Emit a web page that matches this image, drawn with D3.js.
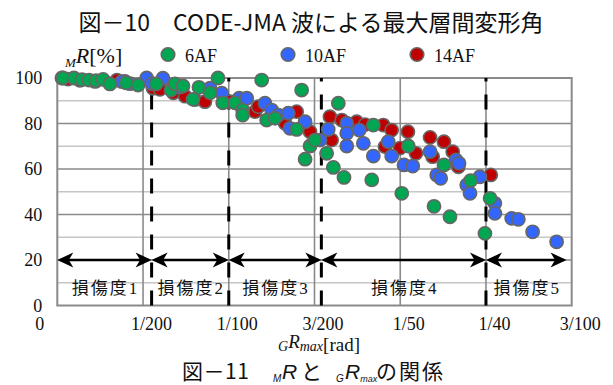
<!DOCTYPE html>
<html>
<head>
<meta charset="utf-8">
<script src="https://cdn.jsdelivr.net/npm/d3@7"></script>
<style>
  body { margin: 0; background: #fff; }
  svg { display: block; }
</style>
</head>
<body>
<svg id="chart" width="613" height="385"></svg>
<script>
// ---- data: maximum inter-story drift (rad) vs. residual ratio MR (%) ----
const seriesNames = ["6AF", "10AF", "14AF"];
const seriesColors = ["#00a651", "#3366ff", "#c00000"];

const drift6AF = [0.00033, 0.00097, 0.00144, 0.00185, 0.00226, 0.00267, 0.00307, 0.00401, 0.00471,
  0.00576, 0.00663, 0.00686, 0.00733, 0.00791, 0.00826, 0.00891, 0.00937, 0.00965, 0.01036, 0.01081,
  0.01081, 0.01192, 0.01221, 0.0127, 0.01396, 0.01425, 0.01445, 0.01474, 0.01503, 0.01571, 0.0161,
  0.01639, 0.01672, 0.01834, 0.01843, 0.02009, 0.02047, 0.02197, 0.02255, 0.0229, 0.02411, 0.02494, 0.02524];
const ratio6AF = [100, 100, 99.3, 99.1, 98.8, 99.4, 97.4, 97.9, 96.9,
  97.4, 94.7, 97.4, 96.5, 90.6, 95.9, 93.5, 100, 89.1, 89.1, 85.9,
  83.7, 99.1, 81.5, 82.3, 77.4, 94.7, 64.3, 70.1, 72.7, 66.9, 60.7,
  88.9, 56.3, 55.2, 79.3, 49.3, 70.1, 43.6, 61.8, 39.0, 54.9, 31.7, 47.1];

const drift10AF = [0.00376, 0.00424, 0.00521, 0.00552, 0.00616, 0.00716, 0.00891, 0.00959, 0.01061,
  0.01105, 0.01211, 0.0125, 0.01289, 0.01347, 0.01357, 0.01445, 0.01532, 0.0158, 0.01688, 0.01688,
  0.01688, 0.01761, 0.01785, 0.01843, 0.0193, 0.0195, 0.02022, 0.02073, 0.02174, 0.02213, 0.02236,
  0.02325, 0.02343, 0.02388, 0.02407, 0.02465, 0.02552, 0.02552, 0.0265, 0.02689, 0.02772, 0.02912];
const ratio10AF = [98.4, 97.5, 100, 97.5, 99.9, 96.0, 95.5, 93.3, 91.1,
  91.1, 88.9, 85.9, 83.7, 84.5, 77.9, 80.8, 72.7, 77.4, 80.1, 75.7,
  70.1, 77.1, 71.3, 65.7, 72.0, 65.7, 61.8, 61.3, 67.6, 57.4, 55.9,
  64.0, 62.5, 53.0, 49.3, 56.6, 44.9, 40.5, 38.3, 37.9, 32.4, 28.0];

const drift14AF = [0.00027, 0.00062, 0.00132, 0.0022, 0.00348, 0.00395, 0.00558, 0.00599, 0.00677,
  0.00745, 0.00803, 0.00861, 0.01007, 0.01153, 0.01172, 0.01328, 0.01396, 0.01474, 0.0159, 0.016,
  0.01659, 0.01746, 0.01795, 0.01901, 0.01911, 0.0195, 0.01999, 0.02045, 0.02092, 0.02174,
  0.02189, 0.02255, 0.02306, 0.02339, 0.02528];
const ratio14AF = [100, 99.5, 99.0, 98.5, 99.1, 98.5, 95.5, 95.0, 93.5,
  92.0, 90.5, 89.6, 89.6, 85.2, 87.4, 80.1, 85.2, 76.4, 83.0, 72.7,
  81.5, 80.8, 79.5, 79.3, 69.8, 77.1, 69.2, 76.4, 66.9, 73.9,
  65.4, 72.0, 67.6, 61.0, 57.4];

const xTickValues = [0, 0.005, 0.01, 0.015, 0.02, 0.025, 0.03];
const xTickLabels = ["0", "1/200", "1/100", "3/200", "1/50", "1/40", "3/100"];
const yTickValues = [0, 20, 40, 60, 80, 100];
const yMinorValues = [10, 30, 50, 70, 90];

// damage-level boundaries (rad) and their labels
const boundaryDrifts = [0.0055, 0.01, 0.0154, 0.025];
const rangeEnd = 0.0297;
const damageLabels = ["損傷度1", "損傷度2", "損傷度3", "損傷度4", "損傷度5"];

// ---- drawing ----
const svg = d3.select("#chart");
const serif = "'Liberation Serif', 'Times New Roman', serif";
const jp = "'Noto Sans CJK JP', 'Noto Sans', sans-serif";
const sansIt = "'Liberation Sans', Arial, sans-serif";

const x = d3.scaleLinear().domain([0, 0.03]).range([57.3, 571.7]);
const y = d3.scaleLinear().domain([0, 100]).range([305.5, 78]);

// title
svg.append("text")
  .attr("x", 311).attr("y", 30.5)
  .attr("text-anchor", "middle")
  .style("font-family", jp).style("font-size", "23px").attr("fill", "#111")
  .text("図－10　CODE-JMA 波による最大層間変形角");

// gridlines
const grid = svg.append("g");
grid.selectAll("line.minor").data(yMinorValues).join("line")
  .attr("x1", x(0)).attr("x2", x(0.03))
  .attr("y1", d => y(d)).attr("y2", d => y(d))
  .attr("stroke", "#c6c6c6").attr("stroke-width", 1.6);
grid.selectAll("line.hmajor").data(yTickValues.slice(1, -1)).join("line")
  .attr("x1", x(0)).attr("x2", x(0.03))
  .attr("y1", d => y(d)).attr("y2", d => y(d))
  .attr("stroke", "#8a8a8a").attr("stroke-width", 1.6);
grid.selectAll("line.vmajor").data(xTickValues.slice(1, -1)).join("line")
  .attr("x1", d => x(d)).attr("x2", d => x(d))
  .attr("y1", y(0)).attr("y2", y(100))
  .attr("stroke", "#8a8a8a").attr("stroke-width", 1.6);
svg.append("rect")
  .attr("x", x(0)).attr("y", y(100))
  .attr("width", x(0.03) - x(0)).attr("height", y(0) - y(100))
  .attr("fill", "none").attr("stroke", "#8a8a8a").attr("stroke-width", 2);

// axes (labels only)
const yAxis = svg.append("g")
  .attr("transform", `translate(${x(0)},0)`)
  .call(d3.axisLeft(y).tickValues(yTickValues).tickSize(0).tickPadding(15));
yAxis.select(".domain").remove();
yAxis.selectAll("text")
  .style("font-family", serif).style("font-size", "18px").attr("fill", "#111");

const xAxis = svg.append("g")
  .attr("transform", `translate(0,${y(0)})`)
  .call(d3.axisBottom(x).tickValues(xTickValues).tickSize(0)
    .tickFormat((d, i) => xTickLabels[i]));
xAxis.select(".domain").remove();
xAxis.selectAll("text")
  .attr("y", 24).attr("dy", null)
  .attr("x", d => d === 0 ? -18 : 8)
  .style("font-family", serif).style("font-size", "18px").attr("fill", "#111");

// damage-level boundaries
svg.append("g").selectAll("line").data(boundaryDrifts).join("line")
  .attr("x1", d => x(d)).attr("x2", d => x(d))
  .attr("y1", y(0)).attr("y2", y(100))
  .attr("stroke", "#000").attr("stroke-width", 3)
  .attr("stroke-dasharray", "15 13");

// double-headed arrows at MR = 20
const defs = svg.append("defs");
defs.append("marker")
  .attr("id", "head").attr("markerUnits", "userSpaceOnUse")
  .attr("viewBox", "-16 -10 20 20").attr("refX", 0).attr("refY", 0)
  .attr("markerWidth", 20).attr("markerHeight", 20)
  .attr("orient", "auto-start-reverse")
  .append("path").attr("d", "M3,0 L-13,-7.5 L-8.5,0 L-13,7.5 Z").attr("fill", "#000");

const edges = [0, ...boundaryDrifts, rangeEnd];
const spans = d3.pairs(edges);
svg.append("g").selectAll("line").data(spans).join("line")
  .attr("x1", d => x(d[0]) + 3).attr("x2", d => x(d[1]) - 3)
  .attr("y1", y(20)).attr("y2", y(20))
  .attr("stroke", "#000").attr("stroke-width", 2.4)
  .attr("marker-start", "url(#head)").attr("marker-end", "url(#head)");

// damage-level labels
const lab = svg.append("g").selectAll("text").data(spans).join("text")
  .attr("x", d => (x(d[0]) + x(d[1])) / 2)
  .attr("y", 294)
  .attr("text-anchor", "middle")
  .attr("fill", "#111");
lab.append("tspan")
  .style("font-family", jp).style("font-size", "17px").style("letter-spacing", "2px")
  .text((d, i) => damageLabels[i].slice(0, 3));
lab.append("tspan")
  .style("font-family", serif).style("font-size", "17px")
  .text((d, i) => damageLabels[i].slice(3));

// scatter points: 14AF below, 6AF on top
const series = [
  { name: seriesNames[2], color: seriesColors[2], xs: drift14AF, ys: ratio14AF },
  { name: seriesNames[1], color: seriesColors[1], xs: drift10AF, ys: ratio10AF },
  { name: seriesNames[0], color: seriesColors[0], xs: drift6AF, ys: ratio6AF }
];
series.forEach(s => {
  svg.append("g").selectAll("circle").data(d3.zip(s.xs, s.ys)).join("circle")
    .attr("cx", d => x(d[0])).attr("cy", d => y(d[1]))
    .attr("r", 6.6)
    .attr("fill", s.color).attr("stroke", "#666").attr("stroke-width", 1.6);
});

// legend
const yLab = svg.append("text").attr("y", 63).attr("fill", "#111").style("font-family", serif);
yLab.append("tspan").attr("x", 65).attr("y", 67).style("font-size", "13px").style("font-style", "italic").text("M");
yLab.append("tspan").attr("y", 63).style("font-size", "22px").style("font-style", "italic").text("R");
yLab.append("tspan").style("font-size", "22px").text("[%]");

const legendX = [168, 288, 417];
seriesNames.forEach((n, i) => {
  svg.append("circle").attr("cx", legendX[i]).attr("cy", 54.5).attr("r", 6.8)
    .attr("fill", seriesColors[i]).attr("stroke", "#666").attr("stroke-width", 1.6);
  svg.append("text").attr("x", legendX[i] + 17).attr("y", 62)
    .style("font-family", serif).style("font-size", "18px").attr("fill", "#111")
    .text(n);
});

// x-axis title
const xLab = svg.append("text").attr("fill", "#111").style("font-family", serif);
xLab.append("tspan").attr("x", 278).attr("y", 351.3).style("font-size", "14px").style("font-style", "italic").text("G");
xLab.append("tspan").attr("y", 347.5).style("font-size", "19px").style("font-style", "italic").text("R");
xLab.append("tspan").attr("y", 351.3).style("font-size", "14px").style("font-style", "italic").text("max");
xLab.append("tspan").attr("y", 350.5).style("font-size", "19px").text("[rad]");

// caption
const cap = svg.append("text").attr("fill", "#111");
const capY = 378.8;
cap.append("tspan").attr("x", 182).attr("y", capY).style("font-family", jp).style("font-size", "21px").style("letter-spacing", "0.5px").text("図－11");
cap.append("tspan").attr("x", 273).attr("y", capY + 3).style("font-family", sansIt).style("font-style", "italic").style("font-size", "10px").text("M");
cap.append("tspan").attr("x", 282).attr("y", capY).style("font-family", sansIt).style("font-style", "italic").style("font-size", "21px").text("R");
cap.append("tspan").attr("x", 301).attr("y", capY).style("font-family", jp).style("font-size", "21px").text("と");
cap.append("tspan").attr("x", 336).attr("y", capY + 3).style("font-family", sansIt).style("font-style", "italic").style("font-size", "10px").text("G");
cap.append("tspan").attr("x", 345).attr("y", capY).style("font-family", sansIt).style("font-style", "italic").style("font-size", "21px").text("R");
cap.append("tspan").attr("y", capY + 3).style("font-family", sansIt).style("font-style", "italic").style("font-size", "9px").text("max");
cap.append("tspan").attr("x", 376).attr("y", capY).style("font-family", jp).style("font-size", "21px").style("letter-spacing", "2px").text("の関係");
</script>
</body>
</html>
